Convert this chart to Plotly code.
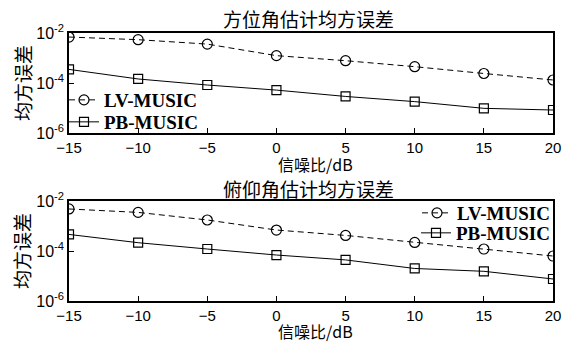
import plotly.graph_objects as go

snr = [-15, -10, -5, 0, 5, 10, 15, 20]

# azimuth MSE
az_lv = [6.9e-3, 5.4e-3, 3.6e-3, 1.24e-3, 7.8e-4, 4.5e-4, 2.4e-4, 1.32e-4]
az_pb = [3.5e-4, 1.45e-4, 8.3e-5, 5.2e-5, 2.9e-5, 1.8e-5, 9.7e-6, 8.3e-6]

# elevation MSE
el_lv = [4.8e-3, 3.5e-3, 1.74e-3, 6.9e-4, 4.2e-4, 2.2e-4, 1.2e-4, 6.3e-5]
el_pb = [4.6e-4, 2.15e-4, 1.2e-4, 6.9e-5, 4.4e-5, 2.0e-5, 1.54e-5, 7.6e-6]

names = ["LV-MUSIC", "PB-MUSIC"]
titles = ["方位角估计均方误差", "俯仰角估计均方误差"]
xlabel = "信噪比/dB"
ylabel = "均方误差"
ytickvals = [1e-6, 1e-4, 1e-2]
yticktext = ["10<sup>-6</sup>", "10<sup>-4</sup>", "10<sup>-2</sup>"]

W, H = 573, 345
CJK = "Noto Sans CJK SC"
SANS = "Liberation Sans"
SERIF = "Liberation Serif"

fig = go.Figure()

def add_pair(lv, pb, xa, ya, lg_lv, lg_pb):
    fig.add_trace(go.Scatter(
        x=snr, y=lv, name=names[0], xaxis=xa, yaxis=ya, legend=lg_lv,
        mode="lines+markers",
        line=dict(color="black", width=1, dash="6px,4px"),
        marker=dict(symbol="circle-open", size=10, color="black", line=dict(width=1.2)),
    ))
    fig.add_trace(go.Scatter(
        x=snr, y=pb, name=names[1], xaxis=xa, yaxis=ya, legend=lg_pb,
        mode="lines+markers",
        line=dict(color="black", width=1),
        marker=dict(symbol="square-open", size=9, color="black", line=dict(width=1.2)),
    ))

add_pair(az_lv, az_pb, "x", "y", "legend", "legend2")
add_pair(el_lv, el_pb, "x2", "y2", "legend3", "legend4")

xdom = [69 / W, 553 / W]
top_dom = [1 - 133 / H, 1 - 33 / H]
bot_dom = [1 - 301 / H, 1 - 201 / H]

xcommon = dict(
    range=[-15, 20], tickvals=[-15, -10, -5, 0, 5, 10, 15, 20],
    ticks="inside", ticklen=5, tickcolor="black", tickwidth=1,
    showline=True, linecolor="black", linewidth=1.5, mirror=True,
    showgrid=False, zeroline=False, automargin=False,
    tickfont=dict(family=SANS, size=15, color="black"),
    domain=xdom,
)
ycommon = dict(
    type="log", range=[-6, -2], tickvals=ytickvals, ticktext=yticktext,
    ticks="inside", ticklen=5, tickcolor="black", tickwidth=1,
    showline=True, linecolor="black", linewidth=1.5, mirror=True,
    showgrid=False, zeroline=False, automargin=False,
    tickfont=dict(family=SANS, size=16, color="black"),
)

legend_style = dict(
    bgcolor="rgba(0,0,0,0)", borderwidth=0,
    font=dict(family=SERIF, size=19, color="black", weight="bold"),
    itemwidth=30, tracegroupgap=0, yanchor="middle",
)

fig.update_layout(
    width=W, height=H,
    margin=dict(l=0, r=0, t=0, b=0),
    paper_bgcolor="white", plot_bgcolor="white",
    xaxis=dict(**xcommon, anchor="y"),
    yaxis=dict(**ycommon, domain=top_dom, anchor="x"),
    xaxis2=dict(**xcommon, anchor="y2"),
    yaxis2=dict(**ycommon, domain=bot_dom, anchor="x2"),
    legend=dict(x=64 / W, y=1 - 100 / H, xanchor="left", **legend_style),
    legend2=dict(x=64 / W, y=1 - 122 / H, xanchor="left", **legend_style),
    legend3=dict(x=555 / W, y=1 - 213 / H, xanchor="right", **legend_style),
    legend4=dict(x=555 / W, y=1 - 233 / H, xanchor="right", **legend_style),
    showlegend=True,
)

annotations = []
for title, ytitle, ymid, yxl in [
    (titles[0], 19, 83, 164),
    (titles[1], 188, 251, 331),
]:
    annotations.append(dict(
        text=title, x=308 / W, y=1 - ytitle / H, xref="paper", yref="paper",
        xanchor="center", yanchor="middle", showarrow=False,
        font=dict(family=CJK, size=19, color="black"),
    ))
    annotations.append(dict(
        text=xlabel, x=315 / W, y=1 - yxl / H, xref="paper", yref="paper",
        xanchor="center", yanchor="middle", showarrow=False,
        font=dict(family=CJK, size=16, color="black"),
    ))
    annotations.append(dict(
        text=ylabel, x=22 / W, y=1 - ymid / H, xref="paper", yref="paper",
        xanchor="center", yanchor="middle", showarrow=False, textangle=-90,
        font=dict(family=CJK, size=19, color="black"),
    ))
fig.update_layout(annotations=annotations)

fig.write_html("out.html")
